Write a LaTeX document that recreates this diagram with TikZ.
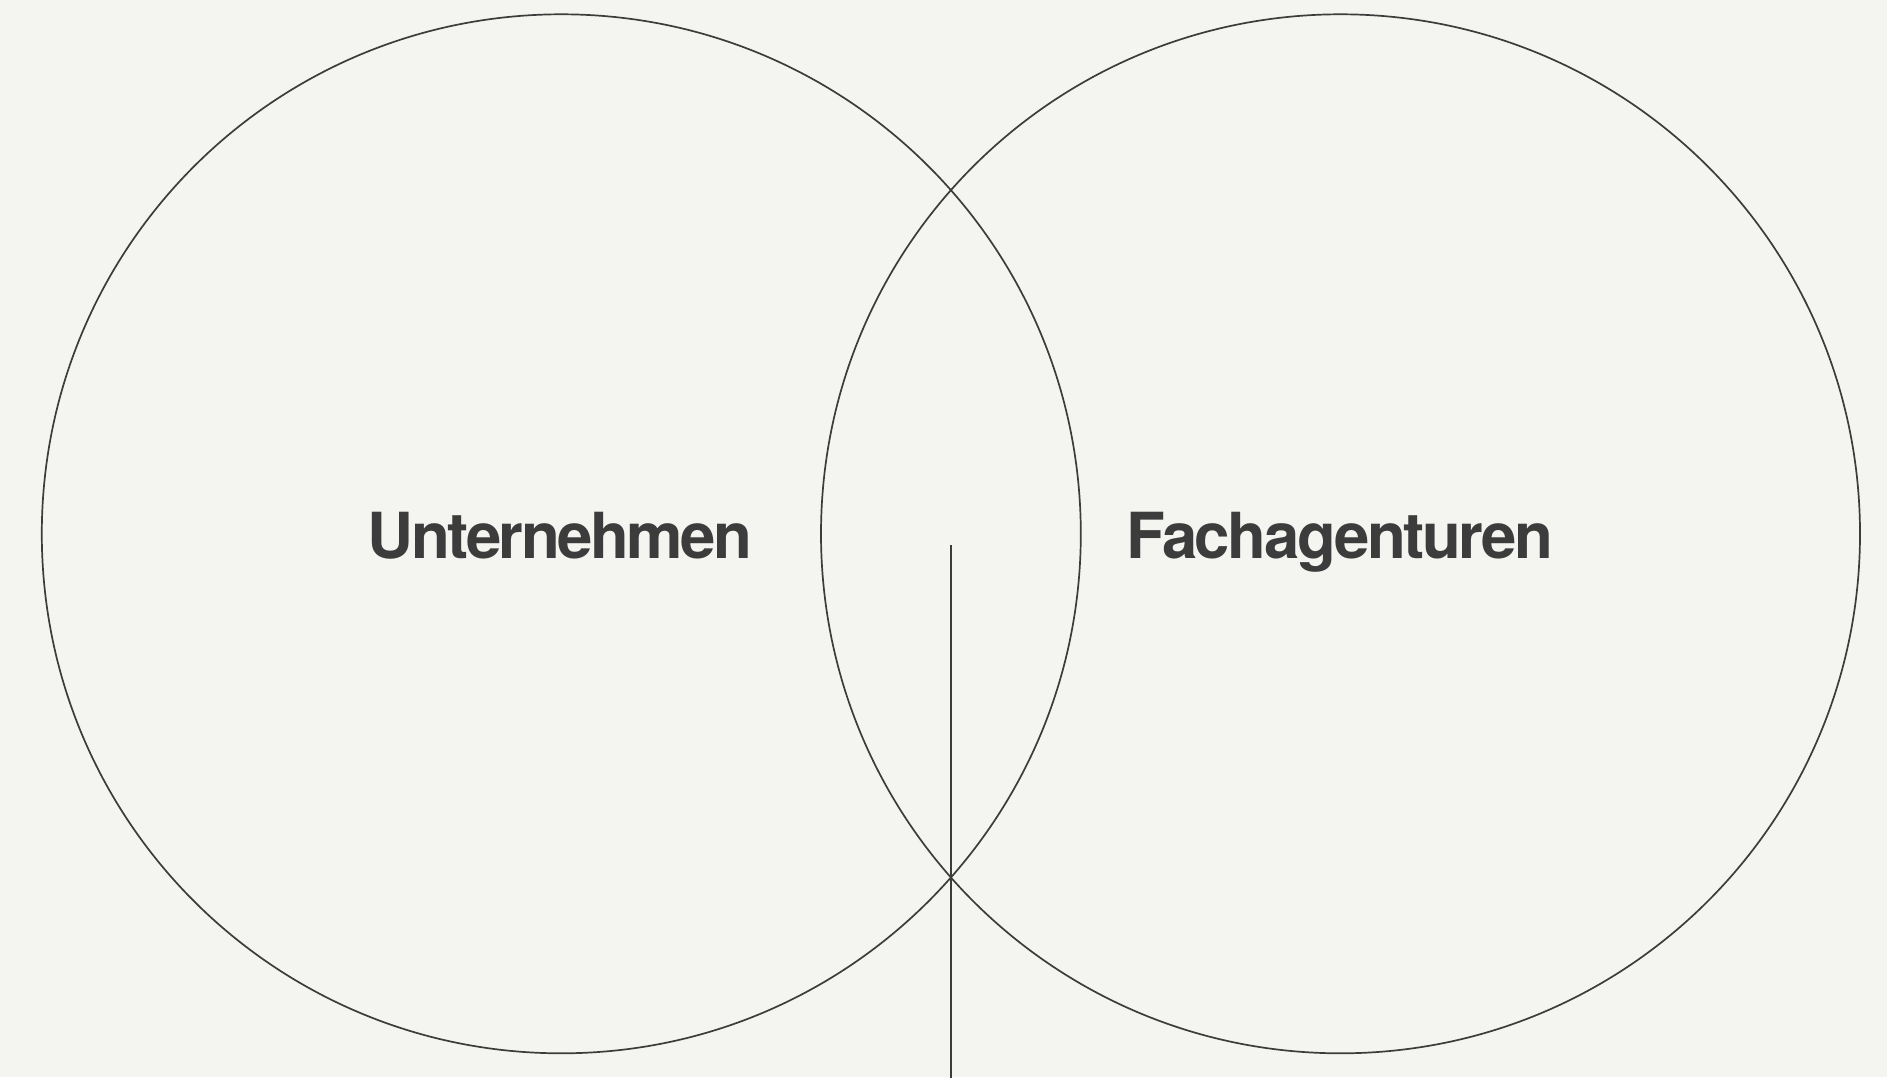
\documentclass[tikz,border=0pt]{standalone}
\usepackage{fontspec}
\setmainfont{TeX Gyre Heros}
\newfontfamily\labelfont[LetterSpace=-3.8]{TeX Gyre Heros}
\definecolor{bg}{HTML}{F4F5F0}
\definecolor{ink}{HTML}{3C3C3C}
\begin{document}
\begin{tikzpicture}[x=1pt,y=1pt,
  ring/.style={draw=ink, line width=1.7pt, circle, minimum size=1039pt, inner sep=0pt},
  lbl/.style={text=ink, font=\labelfont\fontsize{63.5}{70}\selectfont\bfseries, anchor=base, inner sep=0pt}]
  \fill[bg] (0,0) rectangle (1887,-1077);
  \useasboundingbox (0,0) rectangle (1887,-1077);
  \node[ring] (left) at (561.3,-533.8) {};
  \node[ring] (right) at (1340.5,-533.8) {};
  \node[lbl] (t1) at (560,-558.3) {Unternehmen};
  \node[lbl] (t2) at (1339.7,-558.3) {Fachagenturen};
  \coordinate (vtop) at (950.7,-545);
  \coordinate (vbot) at (950.7,-1080);
  \draw[ink, line width=1.7pt] (vtop) -- (vbot);
\end{tikzpicture}
\end{document}
